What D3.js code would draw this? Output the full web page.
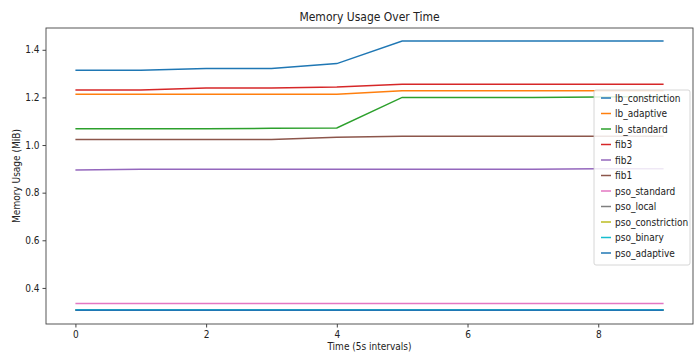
<!DOCTYPE html>
<meta charset="utf-8">
<style>
body { margin: 0; background: #fff; }
text { font-family: "DejaVu Sans Condensed", "DejaVu Sans", sans-serif; font-stretch: condensed; fill: #222; }
.axis path, .axis line { stroke: #444; }
</style>
<body>
<script src="https://d3js.org/d3.v7.min.js"></script>
<script>
var times = [0, 1, 2, 3, 4, 5, 6, 7, 8, 9];
var seriesNames = ["lb_constriction", "lb_adaptive", "lb_standard", "fib3", "fib2", "fib1",
                   "pso_standard", "pso_local", "pso_constriction", "pso_binary", "pso_adaptive"];
var lbConstriction = [1.314, 1.314, 1.321, 1.321, 1.342, 1.437, 1.437, 1.437, 1.437, 1.437];
var lbAdaptive     = [1.213, 1.213, 1.213, 1.213, 1.213, 1.228, 1.228, 1.228, 1.228, 1.228];
var lbStandard     = [1.068, 1.068, 1.068, 1.070, 1.072, 1.200, 1.200, 1.200, 1.202, 1.204];
var fib3           = [1.231, 1.231, 1.240, 1.240, 1.244, 1.255, 1.255, 1.255, 1.255, 1.255];
var fib2           = [0.895, 0.898, 0.898, 0.898, 0.898, 0.898, 0.898, 0.898, 0.900, 0.900];
var fib1           = [1.023, 1.023, 1.023, 1.023, 1.033, 1.037, 1.037, 1.037, 1.037, 1.037];
var psoStandard    = [0.335, 0.335, 0.335, 0.335, 0.335, 0.335, 0.335, 0.335, 0.335, 0.335];
var psoLocal       = [0.307, 0.307, 0.307, 0.307, 0.307, 0.307, 0.307, 0.307, 0.307, 0.307];
var psoConstr      = [0.307, 0.307, 0.307, 0.307, 0.307, 0.307, 0.307, 0.307, 0.307, 0.307];
var psoBinary      = [0.308, 0.308, 0.308, 0.308, 0.308, 0.308, 0.308, 0.308, 0.308, 0.308];
var psoAdaptive    = [0.306, 0.306, 0.306, 0.306, 0.306, 0.306, 0.306, 0.306, 0.306, 0.306];
var seriesValues = [lbConstriction, lbAdaptive, lbStandard, fib3, fib2, fib1,
                    psoStandard, psoLocal, psoConstr, psoBinary, psoAdaptive];
var xTicks = [0, 2, 4, 6, 8];
var yTicks = [0.4, 0.6, 0.8, 1.0, 1.2, 1.4];

var colors = ["#1f77b4", "#ff7f0e", "#2ca02c", "#d62728", "#9467bd", "#8c564b",
              "#e377c2", "#7f7f7f", "#bcbd22", "#17becf", "#1f77b4"];

var margin = {top: 28, right: 7, bottom: 29, left: 46},
    width = 700 - margin.left - margin.right,
    height = 353 - margin.top - margin.bottom;

var x = d3.scaleLinear().domain([-0.45, 9.45]).range([0, width]);
var y = d3.scaleLinear().domain([0.2485, 1.4915]).range([height, 0]);

var svg = d3.select("body").append("svg")
    .attr("width", 700)
    .attr("height", 353)
  .append("g")
    .attr("transform", "translate(" + margin.left + "," + margin.top + ")");

var line = d3.line()
    .x(function(d, i) { return x(times[i]); })
    .y(function(d) { return y(d); });

svg.selectAll(".series")
    .data(seriesValues)
  .enter().append("path")
    .attr("class", "series")
    .attr("fill", "none")
    .attr("stroke", function(d, i) { return colors[i]; })
    .attr("stroke-width", 1.5)
    .attr("d", line);

// axes
svg.append("g")
    .attr("class", "axis")
    .attr("transform", "translate(0," + height + ")")
    .call(d3.axisBottom(x).tickValues(xTicks).tickFormat(d3.format("d")).tickSize(3.5).tickPadding(3))
    .call(function(g) { g.select(".domain").remove(); })
    .selectAll("text").style("font-size", "10px");

svg.append("g")
    .attr("class", "axis")
    .call(d3.axisLeft(y).tickValues(yTicks).tickFormat(d3.format(".1f")).tickSize(3.5).tickPadding(3))
    .call(function(g) { g.select(".domain").remove(); })
    .selectAll("text").style("font-size", "10px");

svg.append("rect")
    .attr("width", width)
    .attr("height", height)
    .attr("fill", "none")
    .attr("stroke", "#444")
    .attr("stroke-width", 0.9);

// title and labels
svg.append("text")
    .attr("x", width / 2)
    .attr("y", -7)
    .attr("text-anchor", "middle")
    .style("font-size", "12px")
    .text("Memory Usage Over Time");

svg.append("text")
    .attr("x", width / 2)
    .attr("y", height + 26)
    .attr("text-anchor", "middle")
    .style("font-size", "10px")
    .text("Time (5s intervals)");

svg.append("text")
    .attr("transform", "rotate(-90)")
    .attr("x", -height / 2)
    .attr("y", -26)
    .attr("text-anchor", "middle")
    .style("font-size", "10px")
    .text("Memory Usage (MiB)");

// legend
var legend = svg.append("g")
    .attr("transform", "translate(" + (594 - margin.left) + "," + (90 - margin.top) + ")");

legend.append("rect")
    .attr("width", 96)
    .attr("height", 175)
    .attr("rx", 2)
    .attr("fill", "#fff")
    .attr("fill-opacity", 0.85)
    .attr("stroke", "#ccc")
    .attr("stroke-width", 0.8);

var items = legend.selectAll(".item")
    .data(seriesNames)
  .enter().append("g")
    .attr("class", "item")
    .attr("transform", function(d, i) { return "translate(0," + (8 + i * 15.5) + ")"; });

items.append("line")
    .attr("x1", 7)
    .attr("x2", 17)
    .attr("stroke", function(d, i) { return colors[i]; })
    .attr("stroke-width", 1.5);

items.append("text")
    .attr("x", 21)
    .attr("dy", "0.35em")
    .style("font-size", "10px")
    .text(function(d) { return d; });
</script>
</body>
